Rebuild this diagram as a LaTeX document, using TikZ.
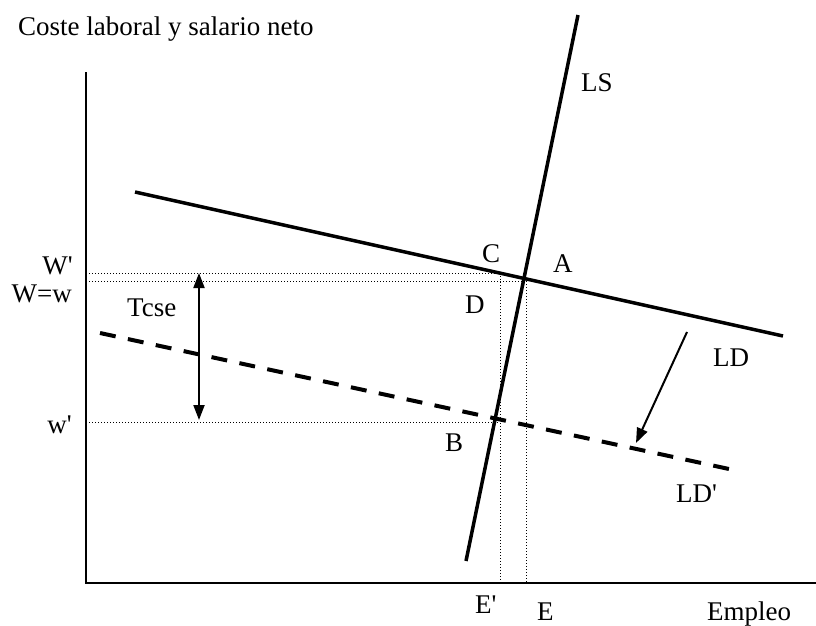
\documentclass[tikz,border=0pt]{standalone}
\usepackage{fontspec}
\setmainfont{Liberation Serif}[Ligatures=TeXOff]
\usetikzlibrary{arrows.meta}
\begin{document}
\begin{tikzpicture}[x=1pt,y=-1pt,
  lbl/.style={inner sep=0pt,font=\fontsize{27}{31}\selectfont},
  axisline/.style={line width=2pt},
  curve/.style={line width=3.5pt},
  dcurve/.style={line width=4pt,dash pattern=on 16pt off 12.52pt},
  guide/.style={line width=1pt,dash pattern=on 1pt off 2pt},
  arr/.style={line width=2pt,-{Triangle[length=15pt,width=11pt]}},
  darr/.style={line width=2pt,{Triangle[length=15pt,width=11pt]}-{Triangle[length=15pt,width=11pt]}}]
\useasboundingbox (0,0) rectangle (816,626);
% axes
\coordinate (O) at (86,583);
\coordinate (ytop) at (86,72);
\coordinate (xend) at (816,583);
\draw[axisline] (ytop) -- (O) -- (xend);
% curves
\coordinate (lsT) at (578,15);
\coordinate (lsB) at (466,561);
\coordinate (ldL) at (135,192);
\coordinate (ldR) at (783,336);
\coordinate (ldpL) at (100,333);
\coordinate (ldpR) at (729,469);
% guide points
\coordinate (Wp) at (86,273);
\coordinate (Ww) at (86,281);
\coordinate (wp) at (86,422);
\coordinate (Cpt) at (500,273);
\coordinate (Apt) at (526,281);
\coordinate (Bpt) at (498,422);
\coordinate (Ep) at (500,583);
\coordinate (E) at (526,583);
\draw[guide] (Wp) -- (Cpt);
\draw[guide] (Ww) -- (Apt);
\draw[guide] (wp) -- (Bpt);
\draw[guide] (Cpt) -- (Ep);
\draw[guide] (Apt) -- (E);
\draw[curve] (ldL) -- (ldR);
\draw[dcurve] (ldpL) -- (ldpR);
\draw[curve] (lsT) -- (lsB);
% arrows
\coordinate (tT) at (199,273);
\coordinate (tB) at (199,420);
\draw[darr] (tT) -- (tB);
\coordinate (sS) at (687,332);
\coordinate (sE) at (636,443);
\draw[arr] (sS) -- (sE);
% labels
\node[lbl,anchor=base west] (title) at (18,36) {Coste laboral y salario neto};
\node[lbl,anchor=base east] (lWp) at (73,274) {W'};
\node[lbl,anchor=base east] (lWw) at (72,302) {W=w};
\node[lbl,anchor=base east] (lwp) at (72,433) {w'};
\node[lbl,anchor=base west] (lT) at (127,316) {Tcse};
\node[lbl,anchor=base west] (lC) at (482,262) {C};
\node[lbl,anchor=base west] (lA) at (553,272) {A};
\node[lbl,anchor=base west] (lD) at (465,313) {D};
\node[lbl,anchor=base west] (lB) at (445,451) {B};
\node[lbl,anchor=base west] (lLD) at (713,366) {LD};
\node[lbl,anchor=base west] (lLDp) at (676,502) {LD'};
\node[lbl,anchor=base west] (lLS) at (581,91) {LS};
\node[lbl,anchor=base west] (lEp) at (475,613) {E'};
\node[lbl,anchor=base west] (lE) at (537,620) {E};
\node[lbl,anchor=base west] (lEm) at (707,620) {Empleo};
\end{tikzpicture}
\end{document}
